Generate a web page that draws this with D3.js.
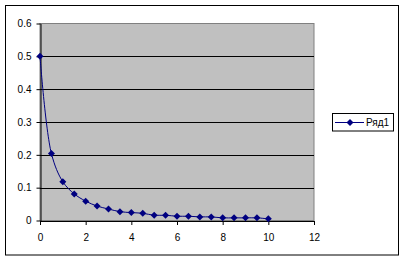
<!DOCTYPE html>
<html><head><meta charset="utf-8">
<script src="https://cdn.jsdelivr.net/npm/d3@7"></script>
<style>body{margin:0;background:#fff}svg{display:block}text{font-family:"Liberation Sans",Arial,sans-serif;font-size:10px;fill:#000}</style>
</head><body><svg id="c" width="405" height="261"></svg>
<script>
const xValues = [0,0.5,1,1.5,2,2.5,3,3.5,4,4.5,5,5.5,6,6.5,7,7.5,8,8.5,9,9.5,10];
const yValues = [0.5,0.204,0.118,0.081,0.059,0.044,0.035,0.027,0.024,0.022,0.016,0.016,0.013,0.013,0.011,0.011,0.008,0.008,0.008,0.008,0.005];
const xTicks = [0,2,4,6,8,10,12];
const yTicks = [0,0.1,0.2,0.3,0.4,0.5,0.6];
const seriesName = "Ряд1";

const svg = d3.select("#c");
const L=40, R=314, T=23.5, B=220.5;
const x = d3.scaleLinear().domain([0,12]).range([L,R]);
const y = d3.scaleLinear().domain([0,0.6]).range([B,T]);

svg.append("rect").attr("x",5.5).attr("y",5.5).attr("width",393).attr("height",249.5).attr("fill","#fff").attr("stroke","#000").attr("stroke-width",1);
svg.append("rect").attr("x",L).attr("y",T).attr("width",R-L).attr("height",B-T).attr("fill","#c0c0c0").attr("stroke","#808080").attr("stroke-width",1);

svg.append("g").selectAll("line").data(yTicks.filter(d=>d>0&&d<0.6)).join("line")
  .attr("x1",L).attr("x2",R).attr("y1",d=>Math.round(y(d))+0.5).attr("y2",d=>Math.round(y(d))+0.5)
  .attr("stroke","#000").attr("stroke-width",1);

const yAxis = svg.append("g").attr("transform",`translate(${L+0.5},0)`)
  .call(d3.axisLeft(y).tickValues(yTicks).tickSize(4).tickSizeOuter(0).tickPadding(5).tickFormat(d3.format("")));
const xAxis = svg.append("g").attr("transform",`translate(0,${B+0.5})`)
  .call(d3.axisBottom(x).tickValues(xTicks).tickSize(4).tickSizeOuter(0).tickPadding(9).tickFormat(d3.format("")));
[yAxis,xAxis].forEach(a=>{a.select(".domain").attr("stroke","#000");a.selectAll("line").attr("stroke","#000");a.selectAll("text").attr("font-family","'Liberation Sans',Arial,sans-serif").attr("font-size",10).attr("fill","#000");});

const pts = xValues.map((v,i)=>[v,yValues[i]]);
const line = d3.line().x(d=>x(d[0])).y(d=>y(d[1])).curve(d3.curveCatmullRom.alpha(0.5));
svg.append("path").attr("d",line(pts)).attr("fill","none").attr("stroke","#000080").attr("stroke-width",1);

const diamond = "M0,-3.5L3.5,0L0,3.5L-3.5,0Z";
svg.append("g").selectAll("path").data(pts).join("path")
  .attr("d",diamond).attr("transform",d=>`translate(${x(d[0])},${y(d[1])})`)
  .attr("fill","#000080");

const lg = svg.append("g");
lg.append("rect").attr("x",332.5).attr("y",113.5).attr("width",61).attr("height",17.5).attr("fill","#fff").attr("stroke","#000");
lg.append("line").attr("x1",335).attr("x2",364).attr("y1",122.5).attr("y2",122.5).attr("stroke","#000080").attr("stroke-width",1);
lg.append("path").attr("d",diamond).attr("transform","translate(350,122.5)").attr("fill","#000080");
lg.append("text").attr("x",366).attr("y",126).text(seriesName);
</script></body></html>
